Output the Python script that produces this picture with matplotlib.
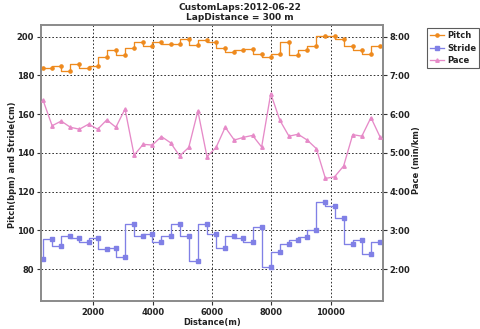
import matplotlib
matplotlib.use("Agg")
import matplotlib.pyplot as plt
from matplotlib.ticker import FuncFormatter, FixedLocator

distance = [305, 612, 919, 1226, 1533, 1840, 2147, 2454, 2761, 3068,
            3375, 3682, 3989, 4296, 4603, 4910, 5217, 5524, 5831, 6138,
            6445, 6752, 7059, 7366, 7673, 7980, 8287, 8594, 8901, 9208,
            9515, 9822, 10129, 10436, 10743, 11050, 11357, 11664]

pitch = [184, 184, 185, 182, 186, 184, 185, 189.5, 193.3, 190.3,
         194.3, 197, 195.3, 197, 196.4, 196.4, 199, 195.5, 198, 197,
         194.3, 192.2, 193, 193.8, 191, 189.6, 191, 197.2, 190.5, 193.3,
         195.2, 200.3, 200.3, 199, 195.3, 193.2, 191.2, 195.4]

stride = [85, 95.3, 92, 97, 95.8, 94.2, 95.8, 90.3, 91, 86.2,
          103, 97, 98, 94.2, 96.9, 103, 96.9, 84.3, 103, 98,
          91, 96.9, 95.8, 94.2, 101.8, 81, 89, 92.8, 95, 96.7,
          100, 114.8, 112.6, 106.6, 92.8, 95, 88, 94]

pace = [6.36, 5.70, 5.82, 5.66, 5.61, 5.74, 5.61, 5.85, 5.66, 6.13,
        4.94, 5.22, 5.20, 5.42, 5.26, 4.92, 5.14, 6.08, 4.90, 5.14,
        5.66, 5.33, 5.40, 5.45, 5.15, 6.53, 5.84, 5.43, 5.48, 5.33,
        5.11, 4.34, 4.38, 4.66, 5.47, 5.43, 5.91, 5.41]

x_ticks = [2000, 4000, 6000, 8000, 10000]
left_ticks = [80, 100, 120, 140, 160, 180, 200]
pace_ticks = [2, 3, 4, 5, 6, 7, 8]

c_pitch = "#EE8A1E"
c_stride = "#8080E6"
c_pace = "#E68AC8"

plt.rcParams['font.family'] = ['DejaVu Sans']
plt.rcParams['font.weight'] = 'bold'

fig = plt.figure(figsize=(4.8, 3.29), dpi=100)
ax = fig.add_axes([41/480, 28/329, (382.7-41)/480, (301-25)/329])

lp, = ax.plot(distance, pitch, drawstyle='steps-pre', color=c_pitch, lw=0.95,
              marker='o', markersize=2.3, label='Pitch', zorder=4)
ls, = ax.plot(distance, stride, drawstyle='steps-pre', color=c_stride, lw=0.95,
              marker='s', markersize=3.1, label='Stride', zorder=4)

ax.set_xlim(237, 11753)
ax.set_ylim(63.5, 206)
ax.xaxis.set_major_locator(FixedLocator(x_ticks))
ax.yaxis.set_major_locator(FixedLocator(left_ticks))
ax.grid(True, color='#222222', linestyle=(0, (1.8, 2.2)), lw=0.65)
ax.tick_params(direction='out', length=3, width=0.8, labelsize=6, pad=2, colors='#333333')
for lab in ax.get_xticklabels() + ax.get_yticklabels():
    lab.set_fontweight('bold')
    lab.set_color('#222222')

ax2 = ax.twinx()
lpa, = ax2.plot(distance, pace, color=c_pace, lw=0.95, marker='^', markersize=2.5,
                label='Pace', zorder=4)
ax2.set_ylim((63.5 - 40) / 20, (206 - 40) / 20)
ax2.yaxis.set_major_locator(FixedLocator(pace_ticks))
ax2.yaxis.set_major_formatter(FuncFormatter(lambda v, p: "%d:%02d" % (int(v), int(round((v - int(v)) * 60)))))
ax2.tick_params(direction='out', length=3, width=0.8, labelsize=6, pad=2, colors='#333333')
for lab in ax2.get_yticklabels():
    lab.set_fontweight('bold')
    lab.set_color('#222222')

for a in (ax, ax2):
    for s in a.spines.values():
        s.set_color('#8a8a8a')
        s.set_linewidth(1.2)

fig.text(240/480, 1 - 7/329, "CustomLaps:2012-06-22", ha='center', va='center',
         fontsize=6.5, fontweight='bold', color='#222222')
fig.text(240/480, 1 - 17/329, "LapDistance = 300 m", ha='center', va='center',
         fontsize=6.5, fontweight='bold', color='#222222')
fig.text(13/480, 1 - 165/329, "Pitch(bpm) and Stride(cm)", rotation=90, ha='center', va='center',
         fontsize=6, fontweight='bold', color='#222222')
fig.text(416/480, 1 - 160/329, "Pace (min/km)", rotation=90, ha='center', va='center',
         fontsize=6, fontweight='bold', color='#222222')
fig.text(212/480, 1 - 322/329, "Distance(m)", ha='center', va='center',
         fontsize=6, fontweight='bold', color='#222222')

leg = fig.legend(handles=[lp, ls, lpa], loc='upper left',
                 bbox_to_anchor=(427.3/480, 1 - 28/329), fontsize=6,
                 frameon=True, fancybox=False, handlelength=1.7, handletextpad=0.3,
                 labelspacing=0.45, borderpad=0.35, borderaxespad=0)
leg.get_frame().set_edgecolor('#333333')
leg.get_frame().set_linewidth(0.8)
for t in leg.get_texts():
    t.set_fontweight('bold')
    t.set_color('#222222')

fig.savefig("out.png", dpi=100)
